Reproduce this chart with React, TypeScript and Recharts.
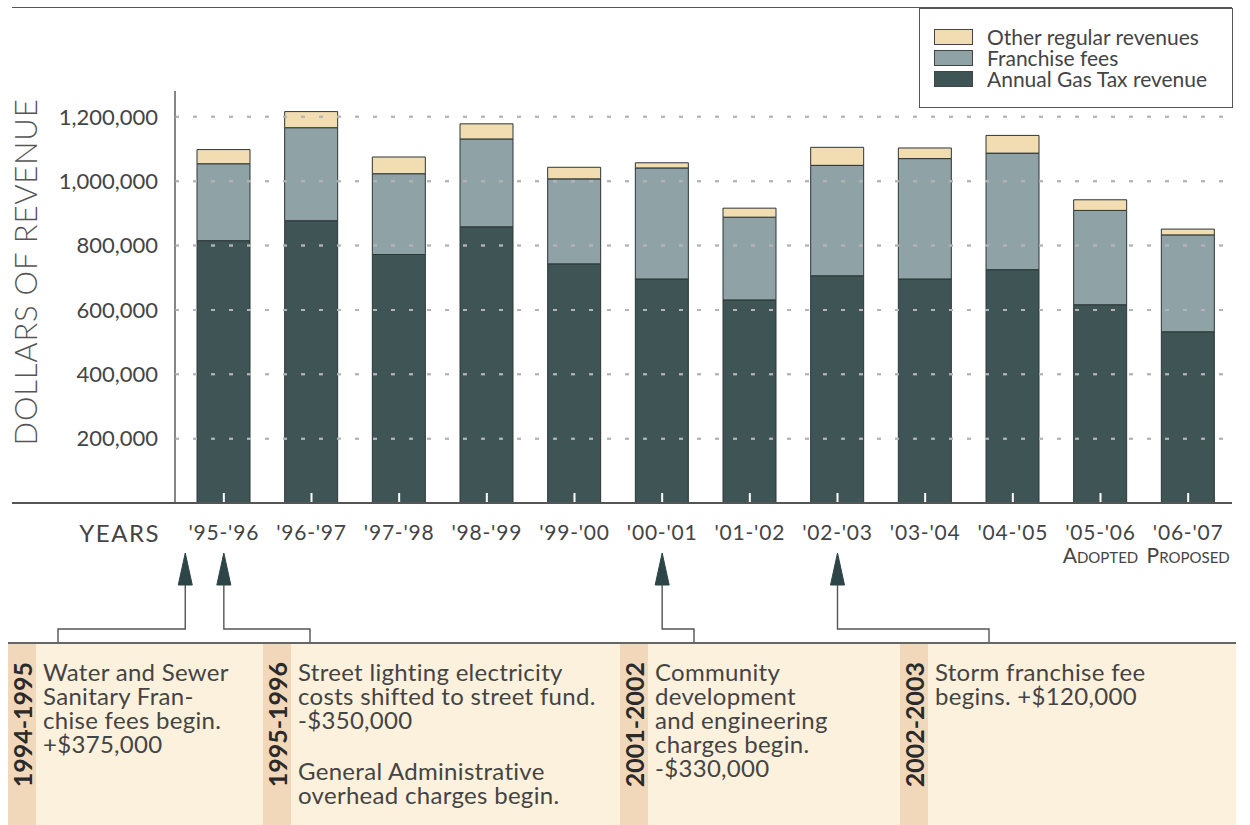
import { Bar, BarChart, Legend, ReferenceLine, XAxis, YAxis } from 'recharts';

// Street fund revenue by fiscal year
const years = ["'95-'96", "'96-'97", "'97-'98", "'98-'99", "'99-'00", "'00-'01", "'01-'02", "'02-'03", "'03-'04", "'04-'05", "'05-'06", "'06-'07"];
const budgetStage = ['', '', '', '', '', '', '', '', '', '', 'Adopted', 'Proposed'];
const gasTax = [815000, 877000, 772000, 858000, 743000, 696000, 631000, 706000, 696000, 725000, 616000, 532000];
const franchiseFees = [239000, 289000, 251000, 273000, 264000, 345000, 257000, 343000, 374000, 362000, 293000, 301000];
const otherRevenues = [44000, 50000, 52000, 47000, 36000, 16000, 28000, 56000, 33000, 55000, 33000, 18000];
const revenueTicks = [200000, 400000, 600000, 800000, 1000000, 1200000];

// events that changed the fund, and the year each arrow points at
const noteYears = ["'95-'96", "'95-'96", "'00-'01", "'02-'03"];
const notePeriods = ['1994-1995', '1995-1996', '2001-2002', '2002-2003'];
const noteTexts = [
  [['Water and Sewer', 'Sanitary Fran-', 'chise fees begin.', '+$375,000']],
  [
    ['Street lighting electricity', 'costs shifted to street fund.', '-$350,000'],
    ['General Administrative', 'overhead charges begin.'],
  ],
  [['Community', 'development', 'and engineering', 'charges begin.', '-$330,000']],
  [['Storm franchise fee', 'begins. +$120,000']],
];

const data = years.map((year, i) => ({
  year,
  gas: gasTax[i],
  franchise: franchiseFees[i],
  other: otherRevenues[i],
}));

const colors: Record<string, string> = {
  gas: '#3f5455',
  franchise: '#8fa2a6',
  other: '#f2dcb1',
};

// layout
const WIDTH = 1250;
const HEIGHT = 825;
const CHART_HEIGHT = 650;
const PLOT_LEFT = 175;
const PLOT_RIGHT = 1232;
const PLOT_TOP = 91;
const PLOT_BOTTOM = 503;
const Y_MAX = 1280000;
const X_PAD = 5;
const BAND = (PLOT_RIGHT - PLOT_LEFT - X_PAD) / years.length;
const DASH = '4 14';
const PANEL_TOP = 642;
const panelWidths = [255, 357, 280, 336];
const arrowShift = [-0.44, 0, 0, 0];
const bracketEnds = [58, 310, 694, 989];
const TEXT = '#444';
const OUTLINE = '#2c3636';
const GUIDE = '#b4b4b4';

// the dotted guides and foot notches are repeated in a layer above the bars
const guideY = (v: number) => PLOT_TOP + (1 - v / Y_MAX) * (PLOT_BOTTOM - PLOT_TOP);
const notchX = (i: number) => PLOT_LEFT + X_PAD + BAND * (i + 0.5);

function Pointer({ x, y, toX }: { x: number; y: number; toX: number }) {
  const tip = y + 50;
  const base = y + 82;
  const elbow = y + 126;
  return (
    <g>
      <path d={`M${x},${tip} L${x - 7},${base} L${x + 7},${base} Z`} fill="#2d4546" stroke="#2d4546" />
      <polyline
        points={`${x},${base} ${x},${elbow} ${toX},${elbow} ${toX},${PANEL_TOP}`}
        fill="none"
        stroke="#555"
        strokeWidth={1.4}
      />
    </g>
  );
}

function YearTick(props: any) {
  const { x, y, payload, index } = props;
  const stage = budgetStage[index];
  return (
    <g>
      <text x={x} y={y + 37} textAnchor="middle" fontSize={21} letterSpacing={0.8} fill={TEXT}>
        {payload.value}
      </text>
      {stage && (
        <text x={x} y={y + 60} textAnchor="middle" fontSize={21} fill={TEXT} style={{ fontVariant: 'small-caps' }}>
          {stage}
        </text>
      )}
      {noteYears.map((yr, i) =>
        yr === payload.value ? (
          <Pointer key={i} x={x + arrowShift[i] * BAND} y={y} toX={bracketEnds[i]} />
        ) : null
      )}
    </g>
  );
}

function RevenueTitle({ viewBox }: any) {
  const cx = viewBox.x + 25;
  const cy = viewBox.y + viewBox.height / 2 - 25;
  return (
    <text
      x={cx}
      y={cy}
      transform={`rotate(-90 ${cx} ${cy})`}
      textAnchor="middle"
      dominantBaseline="central"
      fontSize={31}
      fontWeight={300}
      letterSpacing={0.8}
      fill="#555"
    >
      DOLLARS OF REVENUE
    </text>
  );
}

function YearsTitle({ viewBox }: any) {
  return (
    <text x={viewBox.x - 15} y={viewBox.y + 39} textAnchor="end" fontSize={24} letterSpacing={1.5} fill={TEXT}>
      YEARS
    </text>
  );
}

function RevenueLegend({ payload }: any) {
  const items = [...(payload ?? [])].filter((item: any) => colors[item.dataKey]).reverse();
  return (
    <div
      style={{
        border: '1px solid #555',
        boxSizing: 'border-box',
        height: '100%',
        padding: '17px 0 0 14px',
        background: '#fff',
      }}
    >
      {items.map((item: any) => (
        <div key={item.value} style={{ display: 'flex', alignItems: 'center', height: 21 }}>
          <span
            style={{
              width: 39,
              height: 16,
              background: colors[item.dataKey],
              border: '1px solid #444',
              boxSizing: 'border-box',
              marginRight: 14,
            }}
          />
          <span style={{ fontSize: 21, color: TEXT, lineHeight: '21px' }}>{item.value}</span>
        </div>
      ))}
    </div>
  );
}

export default function App() {
  return (
    <div
      style={{
        position: 'absolute',
        left: 0,
        top: 0,
        width: WIDTH,
        height: HEIGHT,
        background: '#fff',
        fontFamily: 'Lato, "Open Sans", sans-serif',
        overflow: 'hidden',
      }}
    >
      <div style={{ position: 'absolute', left: 12, top: 7, width: PLOT_RIGHT - 12, borderTop: '1.5px solid #555' }} />
      <div style={{ position: 'absolute', left: 12, top: PLOT_BOTTOM - 1, width: PLOT_LEFT - 12, borderTop: '2px solid #555' }} />

      <div style={{ position: 'absolute', left: 0, top: 0 }}>
        <BarChart
          width={WIDTH}
          height={CHART_HEIGHT}
          data={data}
          margin={{ top: PLOT_TOP, right: WIDTH - PLOT_RIGHT, bottom: 0, left: 0 }}
        >
          {revenueTicks.map((v) => (
            <ReferenceLine key={v} y={v} stroke={GUIDE} strokeWidth={2} strokeDasharray={DASH} />
          ))}
          <YAxis
            width={PLOT_LEFT}
            domain={[0, Y_MAX]}
            ticks={revenueTicks}
            interval={0}
            allowDataOverflow
            tickFormatter={(v: number) => v.toLocaleString('en-US')}
            axisLine={{ stroke: '#444', strokeWidth: 1.3 }}
            tickLine={false}
            tickSize={0}
            tickMargin={17}
            tick={{ fill: TEXT, fontSize: 22 }}
            label={<RevenueTitle />}
          />
          <XAxis
            dataKey="year"
            height={CHART_HEIGHT - PLOT_BOTTOM}
            interval={0}
            padding={{ left: X_PAD, right: 0 }}
            axisLine={{ stroke: '#555', strokeWidth: 2 }}
            tickLine={false}
            tickSize={0}
            tickMargin={0}
            tick={<YearTick />}
            label={<YearsTitle />}
          />
          <Bar dataKey="gas" name="Annual Gas Tax revenue" stackId="rev" fill={colors.gas} stroke={OUTLINE} strokeWidth={1} barSize={53} isAnimationActive={false} />
          <Bar dataKey="franchise" name="Franchise fees" stackId="rev" fill={colors.franchise} stroke={OUTLINE} strokeWidth={1} barSize={53} isAnimationActive={false} />
          <Bar dataKey="other" name="Other regular revenues" stackId="rev" fill={colors.other} stroke={OUTLINE} strokeWidth={1} barSize={53} isAnimationActive={false} />
          <Legend
            layout="vertical"
            align="center"
            verticalAlign="middle"
            wrapperStyle={{ left: 919, top: 8, width: 314, height: 100 }}
            content={<RevenueLegend />}
          />
        </BarChart>
      </div>

      <svg
        width={WIDTH}
        height={CHART_HEIGHT}
        style={{ position: 'absolute', left: 0, top: 0, pointerEvents: 'none' }}
      >
        {revenueTicks.map((v) => (
          <line
            key={v}
            x1={PLOT_LEFT}
            x2={PLOT_RIGHT}
            y1={guideY(v)}
            y2={guideY(v)}
            stroke={GUIDE}
            strokeOpacity={0.75}
            strokeWidth={2}
            strokeDasharray={DASH}
          />
        ))}
        {years.map((yr, i) => (
          <line
            key={yr}
            x1={notchX(i)}
            x2={notchX(i)}
            y1={PLOT_BOTTOM - 10}
            y2={PLOT_BOTTOM - 1}
            stroke="#fff"
            strokeWidth={2}
          />
        ))}
      </svg>

      <div
        style={{
          position: 'absolute',
          left: 8,
          top: PANEL_TOP,
          width: 1228,
          height: HEIGHT - PANEL_TOP,
          borderTop: '2px solid #666',
          display: 'flex',
          background: '#fcf1dc',
        }}
      >
        {notePeriods.map((period, i) => (
          <div key={period} style={{ width: panelWidths[i], display: 'flex' }}>
            <div style={{ width: 28, flex: 'none', background: '#f1d8ba', position: 'relative' }}>
              <div
                style={{
                  position: 'absolute',
                  left: 1,
                  top: 18,
                  writingMode: 'vertical-rl',
                  transform: 'rotate(180deg)',
                  fontWeight: 700,
                  fontSize: 25,
                  lineHeight: '26px',
                  color: '#2a2a2a',
                }}
              >
                {period}
              </div>
            </div>
            <div
              style={{
                padding: '16px 0 0 7px',
                fontSize: 24,
                letterSpacing: 0.3,
                lineHeight: '24px',
                color: TEXT,
                whiteSpace: 'nowrap',
              }}
            >
              {noteTexts[i].map((para, j) => (
                <div key={j} style={{ marginTop: j ? 27 : 0 }}>
                  {para.map((line) => (
                    <div key={line}>{line}</div>
                  ))}
                </div>
              ))}
            </div>
          </div>
        ))}
      </div>
    </div>
  );
}
